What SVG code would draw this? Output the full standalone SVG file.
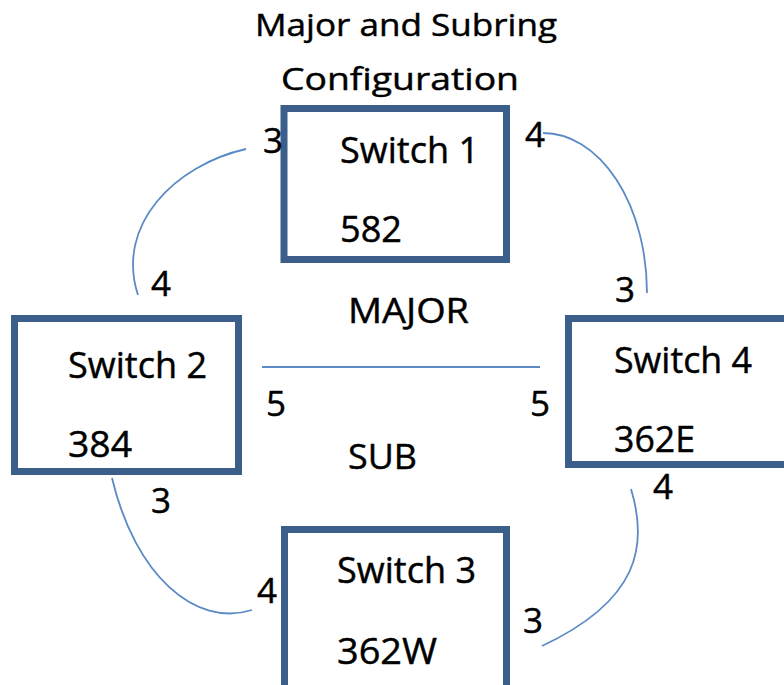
<svg xmlns="http://www.w3.org/2000/svg" width="784" height="685" viewBox="0 0 784 685">
<style>
  text { font-family: "Open Sans", "Noto Sans", "Liberation Sans", sans-serif; fill: #000; stroke: #000; stroke-width: 0.45; }
  .t { font-size: 36px; }
  .lbl { font-size: 35px; }
  .title { font-size: 31px; }
  .box { fill: #fff; stroke: #3B5E8B; stroke-width: 7; }
  .conn { fill: none; stroke: #5B8AC6; stroke-width: 1.8; }
</style>
<rect width="784" height="685" fill="#fff"/>
<g id="title">
  <text class="title" x="255" y="36" textLength="302" lengthAdjust="spacingAndGlyphs">Major and Subring</text>
  <text class="title" x="281" y="90" textLength="238" lengthAdjust="spacingAndGlyphs">Configuration</text>
</g>
<g id="connectors">
  <path class="conn" d="M246,149 C175,165 115,225 138,295"/>
  <path class="conn" d="M543,133 A104,160 0 0 1 647,293"/>
  <line class="conn" x1="262" y1="367" x2="540" y2="367"/>
  <path class="conn" d="M112,478 C135,575 195,628 252,610"/>
  <path class="conn" d="M631,489 C648,545 640,600 542,646"/>
</g>
<g id="switch1">
  <rect class="box" x="284" y="108.5" width="222.5" height="151"/>
  <text class="t" x="340" y="163" textLength="139" lengthAdjust="spacingAndGlyphs">Switch 1</text>
  <text class="t" x="340" y="242" textLength="62" lengthAdjust="spacingAndGlyphs">582</text>
</g>
<g id="switch2">
  <rect class="box" x="14.5" y="318.5" width="224" height="153"/>
  <text class="t" x="68" y="378" textLength="139" lengthAdjust="spacingAndGlyphs">Switch 2</text>
  <text class="t" x="68" y="457" textLength="64" lengthAdjust="spacingAndGlyphs">384</text>
</g>
<g id="switch4">
  <rect class="box" x="568.5" y="318.5" width="230" height="146"/>
  <text class="t" x="614" y="373" textLength="138" lengthAdjust="spacingAndGlyphs">Switch 4</text>
  <text class="t" x="614" y="452" textLength="81" lengthAdjust="spacingAndGlyphs">362E</text>
</g>
<g id="switch3">
  <rect class="box" x="284.5" y="529.5" width="222" height="170"/>
  <text class="t" x="337" y="583" textLength="139" lengthAdjust="spacingAndGlyphs">Switch 3</text>
  <text class="t" x="337" y="664" textLength="100" lengthAdjust="spacingAndGlyphs">362W</text>
</g>
<g id="labels">
  <text class="lbl" x="348" y="323" textLength="121" lengthAdjust="spacingAndGlyphs">MAJOR</text>
  <text class="lbl" x="348" y="469" textLength="69" lengthAdjust="spacingAndGlyphs">SUB</text>
  <text class="lbl" x="263" y="153">3</text>
  <text class="lbl" x="151" y="296">4</text>
  <text class="lbl" x="525" y="147">4</text>
  <text class="lbl" x="615" y="302">3</text>
  <text class="lbl" x="266" y="416">5</text>
  <text class="lbl" x="530" y="416">5</text>
  <text class="lbl" x="151" y="513">3</text>
  <text class="lbl" x="257" y="603">4</text>
  <text class="lbl" x="653" y="499">4</text>
  <text class="lbl" x="523" y="633">3</text>
</g>
</svg>
